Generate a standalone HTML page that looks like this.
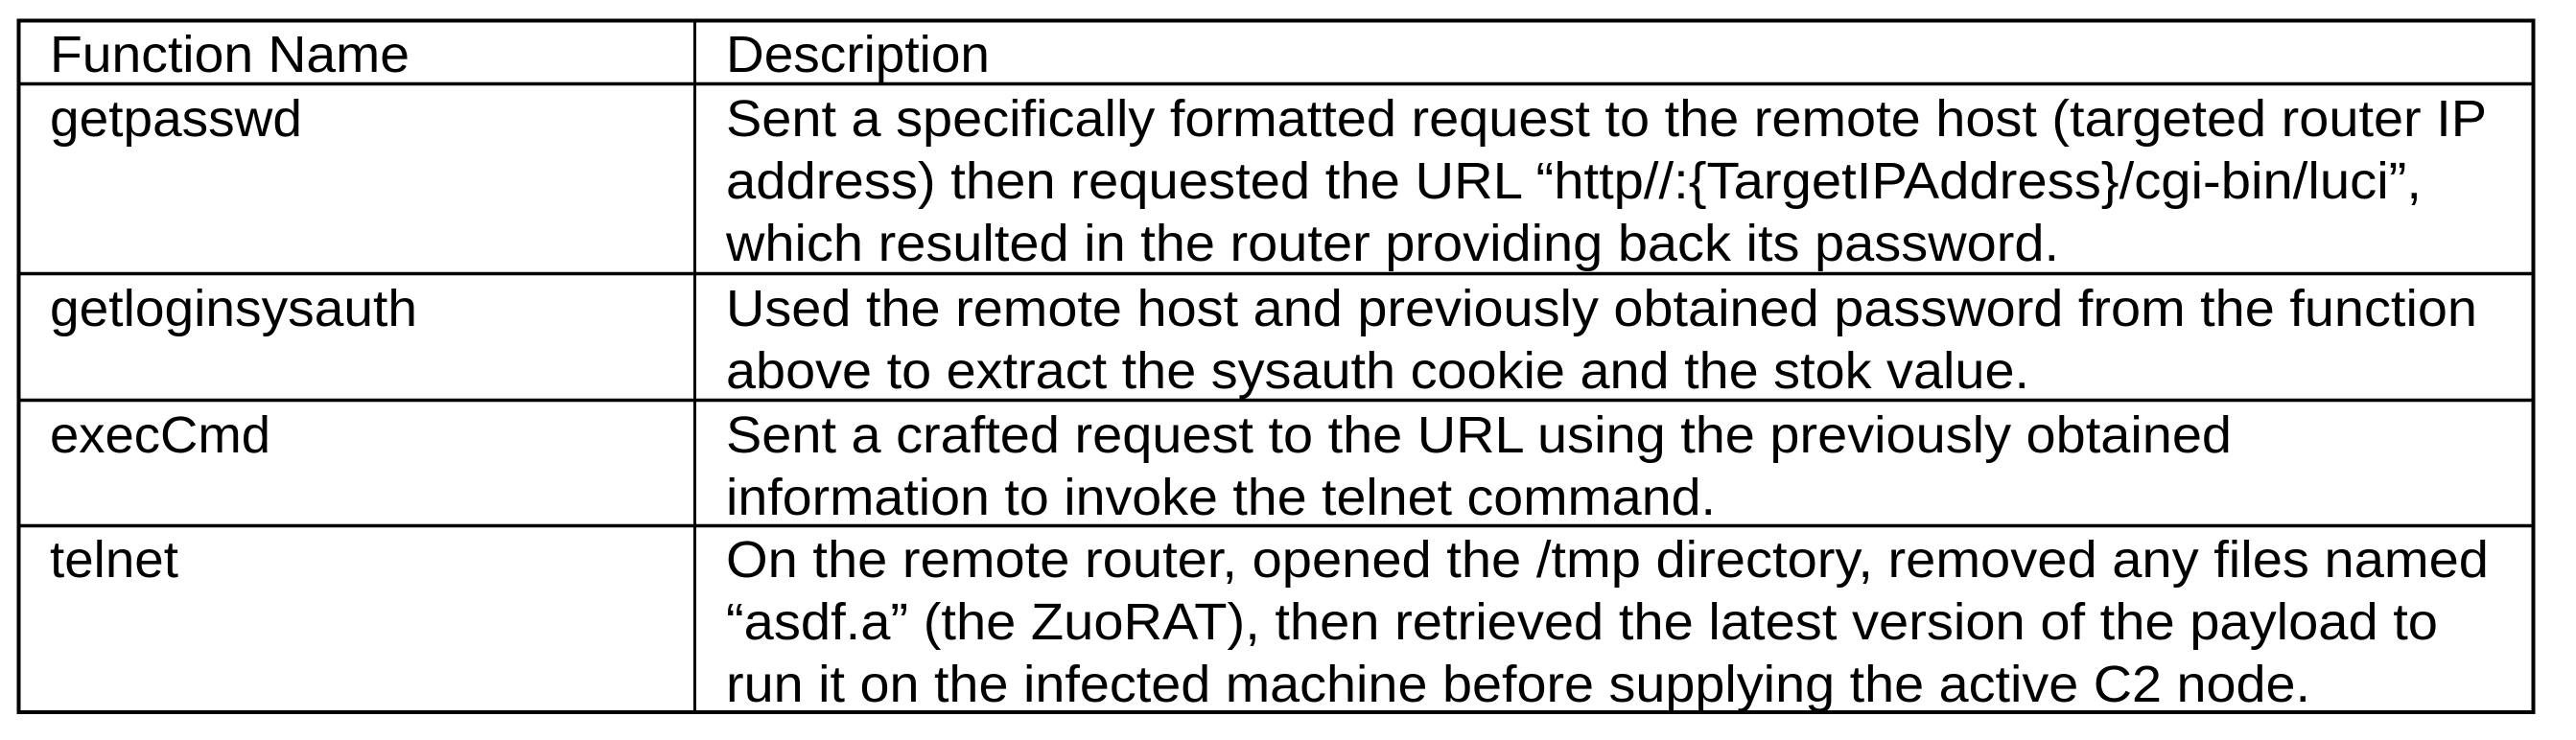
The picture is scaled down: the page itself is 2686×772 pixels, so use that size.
<!DOCTYPE html>
<html><head><meta charset="utf-8"><style>
html,body{margin:0;padding:0;background:#fff;}
svg{display:block;}
text{font-family:"Liberation Sans",Arial,sans-serif;font-size:54px;fill:#000;}
</style></head><body>
<svg width="2686" height="772" viewBox="0 0 2686 772" xmlns="http://www.w3.org/2000/svg">
<g stroke="#000" fill="none">
<rect x="19.5" y="21.5" width="2622" height="721.5" stroke-width="4"/>
<line x1="19" y1="87.5" x2="2642" y2="87.5" stroke-width="3.5"/>
<line x1="19" y1="285.5" x2="2642" y2="285.5" stroke-width="3.5"/>
<line x1="19" y1="417.5" x2="2642" y2="417.5" stroke-width="3.5"/>
<line x1="19" y1="548.5" x2="2642" y2="548.5" stroke-width="3.5"/>
<line x1="724.5" y1="21" x2="724.5" y2="743" stroke-width="3"/>
</g>
<g lengthAdjust="spacingAndGlyphs">
<text x="52" y="75" textLength="375" lengthAdjust="spacingAndGlyphs">Function Name</text>
<text x="757" y="75" textLength="275" lengthAdjust="spacingAndGlyphs">Description</text>

<text x="52" y="142" textLength="263" lengthAdjust="spacingAndGlyphs">getpasswd</text>
<text x="757" y="142" textLength="1836" lengthAdjust="spacingAndGlyphs">Sent a specifically formatted request to the remote host (targeted router IP</text>
<text x="757" y="207" textLength="1768" lengthAdjust="spacingAndGlyphs">address) then requested the URL “http//:{TargetIPAddress}/cgi-bin/luci”,</text>
<text x="757" y="272" textLength="1390" lengthAdjust="spacingAndGlyphs">which resulted in the router providing back its password.</text>

<text x="52" y="340" textLength="383" lengthAdjust="spacingAndGlyphs">getloginsysauth</text>
<text x="757" y="340" textLength="1826" lengthAdjust="spacingAndGlyphs">Used the remote host and previously obtained password from the function</text>
<text x="757" y="405" textLength="1359" lengthAdjust="spacingAndGlyphs">above to extract the sysauth cookie and the stok value.</text>

<text x="52" y="472" textLength="230" lengthAdjust="spacingAndGlyphs">execCmd</text>
<text x="757" y="472" textLength="1570" lengthAdjust="spacingAndGlyphs">Sent a crafted request to the URL using the previously obtained</text>
<text x="757" y="537" textLength="1032" lengthAdjust="spacingAndGlyphs">information to invoke the telnet command.</text>

<text x="52" y="602" textLength="134" lengthAdjust="spacingAndGlyphs">telnet</text>
<text x="757" y="602" textLength="1838" lengthAdjust="spacingAndGlyphs">On the remote router, opened the /tmp directory, removed any files named</text>
<text x="757" y="667" textLength="1785" lengthAdjust="spacingAndGlyphs">“asdf.a” (the ZuoRAT), then retrieved the latest version of the payload to</text>
<text x="757" y="732" textLength="1652" lengthAdjust="spacingAndGlyphs">run it on the infected machine before supplying the active C2 node.</text>
</g>
</svg>
</body></html>
